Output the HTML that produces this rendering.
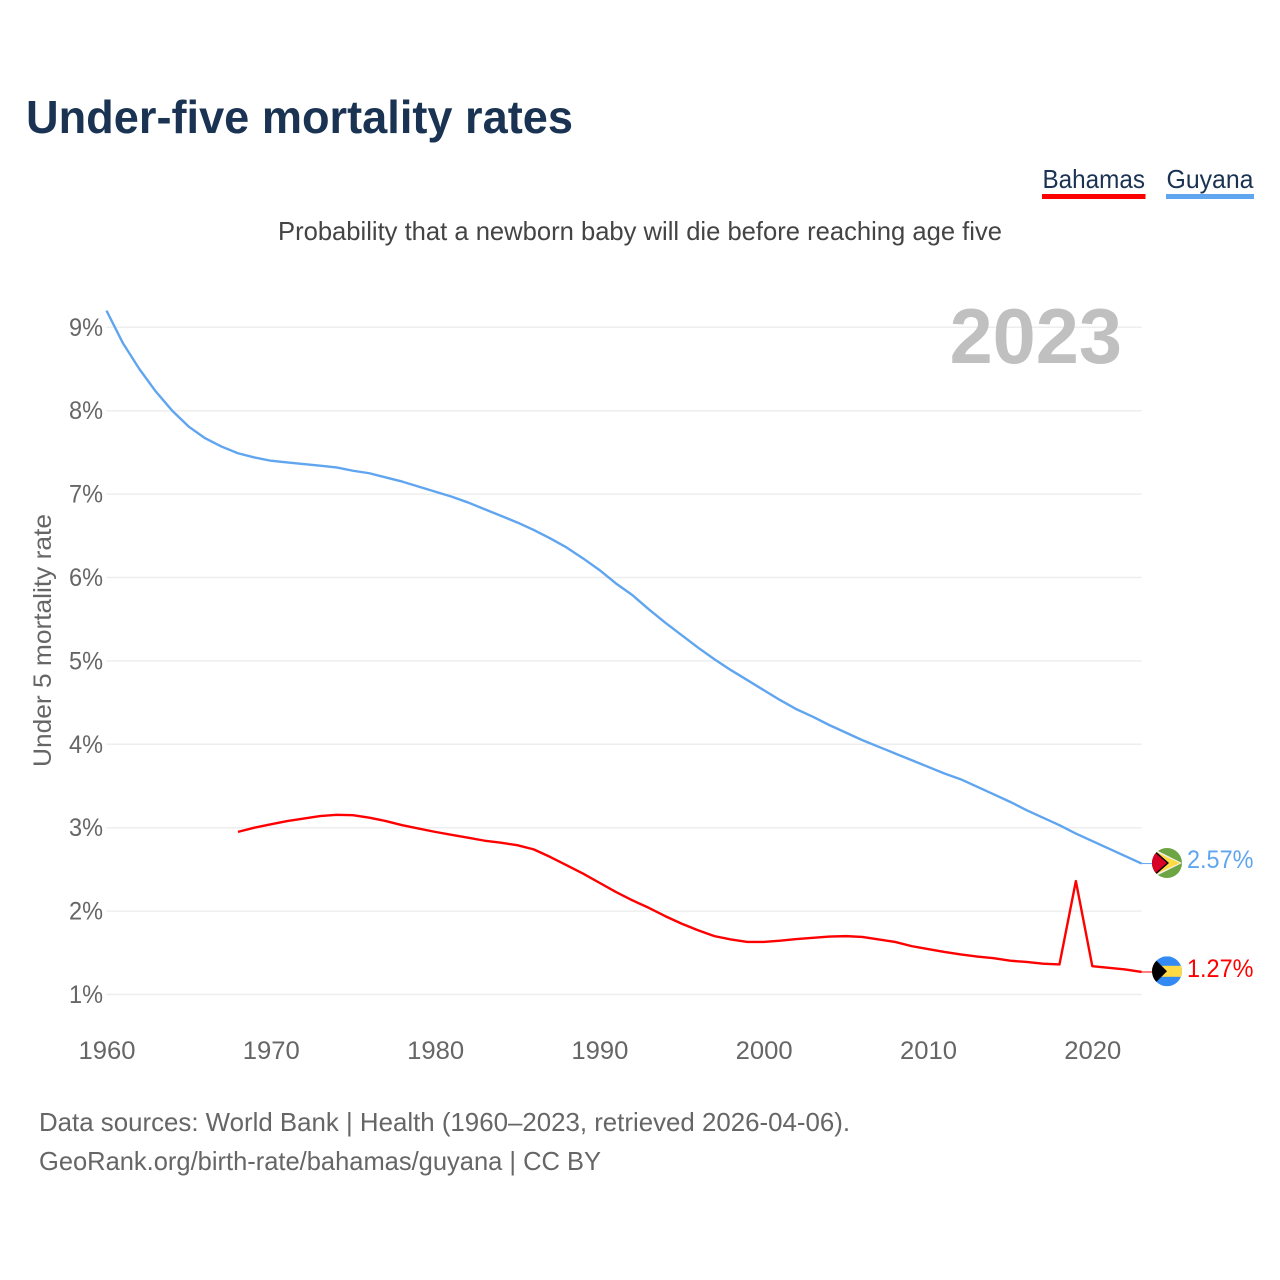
<!DOCTYPE html>
<html lang="en">
<head>
<meta charset="utf-8">
<title>Under-five mortality rates</title>
<style>
html,body{margin:0;padding:0;background:#fff;width:1280px;height:1280px;overflow:hidden}
svg{display:block}
text{font-family:"Liberation Sans",sans-serif}
</style>
</head>
<body>
<svg id="chart" width="1280" height="1280" viewBox="0 0 1280 1280" xmlns="http://www.w3.org/2000/svg">
  <defs>
    <clipPath id="flag-clip"><circle cx="0" cy="0" r="15"></circle></clipPath>
  </defs>
  <text x="26" y="133" font-size="46" font-weight="700" fill="#1a3353" textLength="547" lengthAdjust="spacingAndGlyphs">Under-five mortality rates</text>
  <text x="1042.500" y="188" font-size="26" fill="#1a3353" textLength="102.500" lengthAdjust="spacingAndGlyphs">Bahamas</text>
  <rect x="1042" y="194" width="103.500" height="5" fill="#ff0000"></rect>
  <text x="1166.500" y="188" font-size="26" fill="#1a3353" textLength="87" lengthAdjust="spacingAndGlyphs">Guyana</text>
  <rect x="1166" y="194" width="88" height="5" fill="#60a5ef"></rect>
  <text x="278" y="240" font-size="26" fill="#444444" textLength="724" lengthAdjust="spacingAndGlyphs">Probability that a newborn baby will die before reaching age five</text>
  <text transform="translate(51,767) rotate(-90)" font-size="25" fill="#666666" textLength="253" lengthAdjust="spacingAndGlyphs">Under 5 mortality rate</text>
  <g id="grid"></g>
  <g id="y-ticks"></g>
  <g id="x-ticks"></g>
  <text x="1122" y="363" font-size="77.500" font-weight="700" fill="#c0c0c0" text-anchor="end">2023</text>
  <g id="series"></g>
  <g transform="translate(1167,863)">
    <g clip-path="url(#flag-clip)">
      <rect x="-15" y="-15" width="30" height="30" fill="#6da544"></rect>
      <polygon points="-15,-15 15,0 -15,15" fill="#f0f0f0"></polygon>
      <polygon points="-15,-13 13,0 -15,13" fill="#ffda44"></polygon>
      <polygon points="-15,-15 2,0 -15,15" fill="#000000"></polygon>
      <polygon points="-15,-13 0,0 -15,13" fill="#d80027"></polygon>
    </g>
  </g>
  <g transform="translate(1167,971.300)">
    <g clip-path="url(#flag-clip)">
      <rect x="-15" y="-15" width="30" height="30" fill="#338af3"></rect>
      <rect x="-15" y="-5.500" width="30" height="11" fill="#ffda44"></rect>
      <polygon points="-15,-15 0,0 -15,15" fill="#000000"></polygon>
    </g>
  </g>
  <text x="1187" y="868" font-size="25" fill="#60a5ef" textLength="66.500" lengthAdjust="spacingAndGlyphs">2.57%</text>
  <text x="1187" y="977" font-size="25" fill="#ff0000" textLength="66.500" lengthAdjust="spacingAndGlyphs">1.27%</text>
  <text x="39" y="1131" font-size="26" fill="#666666" textLength="811" lengthAdjust="spacingAndGlyphs">Data sources: World Bank | Health (1960–2023, retrieved 2026-04-06).</text>
  <text x="39" y="1170" font-size="26" fill="#666666" textLength="562" lengthAdjust="spacingAndGlyphs">GeoRank.org/birth-rate/bahamas/guyana | CC BY</text>
</svg>
<script>
const guyanaStartYear = 1960;
const guyanaValues = [
  9.20,8.81,8.50,8.23,8.00,7.81,7.67,7.57,7.49,7.44,
  7.40,7.38,7.36,7.34,7.32,7.28,7.25,7.20,7.15,7.09,
  7.03,6.97,6.90,6.82,6.74,6.66,6.57,6.47,6.36,6.23,
  6.09,5.93,5.79,5.62,5.46,5.31,5.16,5.02,4.89,4.77,
  4.65,4.53,4.42,4.33,4.23,4.14,4.05,3.97,3.89,3.81,
  3.73,3.65,3.58,3.49,3.40,3.31,3.21,3.12,3.03,2.93,
  2.84,2.75,2.66,2.57
];
const bahamasStartYear = 1968;
const bahamasValues = [
  2.95,3.00,3.04,3.08,3.11,3.14,3.155,3.15,3.12,3.08,
  3.03,2.99,2.95,2.915,2.88,2.845,2.82,2.79,2.74,2.65,
  2.55,2.45,2.34,2.23,2.13,2.04,1.94,1.85,1.77,1.70,
  1.66,1.63,1.63,1.645,1.665,1.68,1.695,1.70,1.69,1.66,
  1.63,1.58,1.545,1.51,1.48,1.455,1.435,1.405,1.39,1.37,
  1.36,2.36,1.34,1.32,1.30,1.27
];
const yTickValues = [1,2,3,4,5,6,7,8,9];
const xTickValues = [1960,1970,1980,1990,2000,2010,2020];

const NS = 'http://www.w3.org/2000/svg';
const xScale = year => 106.5 + (year - 1960) * 16.43;
const yScale = value => 994.5 - (value - 1) * 83.4;
const gridLayer = document.getElementById('grid');
const yLayer = document.getElementById('y-ticks');
const xLayer = document.getElementById('x-ticks');
const seriesLayer = document.getElementById('series');

yTickValues.forEach(v => {
  const line = document.createElementNS(NS, 'line');
  
  
  line.setAttribute('x1', xScale(1960));
  line.setAttribute('x2', xScale(2023));
  line.setAttribute('y1', yScale(v));
  line.setAttribute('y2', yScale(v));
  line.setAttribute('stroke', '#eeeeee');
  line.setAttribute('stroke-width', '1.5');
  gridLayer.appendChild(line);

  const label = document.createElementNS(NS, 'text');
  
  
  label.setAttribute('x', 69);
  label.setAttribute('y', yScale(v) + 8.5);
  label.setAttribute('font-size', '25');
  label.setAttribute('fill', '#666666');
  label.setAttribute('textLength', '34');
  label.setAttribute('lengthAdjust', 'spacingAndGlyphs');
  label.textContent = v + '%';
  yLayer.appendChild(label);
});

xTickValues.forEach(year => {
  const label = document.createElementNS(NS, 'text');
  
  
  label.setAttribute('x', xScale(year) - 28);
  label.setAttribute('y', 1059);
  label.setAttribute('font-size', '25');
  label.setAttribute('fill', '#666666');
  label.setAttribute('textLength', '57');
  label.setAttribute('lengthAdjust', 'spacingAndGlyphs');
  label.textContent = year;
  xLayer.appendChild(label);
});

function pathFor(startYear, values) {
  return values.map((v, i) => (i ? 'L' : 'M') + xScale(startYear + i).toFixed(2) + ' ' + yScale(v).toFixed(2)).join(' ');
}

const guyanaPath = document.createElementNS(NS, 'path');


guyanaPath.setAttribute('d', pathFor(guyanaStartYear, guyanaValues));
guyanaPath.setAttribute('fill', 'none');
guyanaPath.setAttribute('stroke', '#60a5ef');
guyanaPath.setAttribute('stroke-width', '2.4');
guyanaPath.setAttribute('stroke-linejoin', 'round');
seriesLayer.appendChild(guyanaPath);

const bahamasPath = document.createElementNS(NS, 'path');


bahamasPath.setAttribute('d', pathFor(bahamasStartYear, bahamasValues));
bahamasPath.setAttribute('fill', 'none');
bahamasPath.setAttribute('stroke', '#ff0000');
bahamasPath.setAttribute('stroke-width', '2.4');
bahamasPath.setAttribute('stroke-linejoin', 'round');
seriesLayer.appendChild(bahamasPath);

const guyanaLeader = document.createElementNS(NS, 'line');


guyanaLeader.setAttribute('x1', xScale(2023));
guyanaLeader.setAttribute('x2', 1152);
guyanaLeader.setAttribute('y1', yScale(guyanaValues[guyanaValues.length - 1]));
guyanaLeader.setAttribute('y2', yScale(guyanaValues[guyanaValues.length - 1]));
guyanaLeader.setAttribute('stroke', '#60a5ef');
guyanaLeader.setAttribute('stroke-width', '1');
seriesLayer.appendChild(guyanaLeader);

const bahamasLeader = document.createElementNS(NS, 'line');


bahamasLeader.setAttribute('x1', xScale(2023));
bahamasLeader.setAttribute('x2', 1152);
bahamasLeader.setAttribute('y1', yScale(bahamasValues[bahamasValues.length - 1]));
bahamasLeader.setAttribute('y2', yScale(bahamasValues[bahamasValues.length - 1]));
bahamasLeader.setAttribute('stroke', '#ff0000');
bahamasLeader.setAttribute('stroke-width', '1');
seriesLayer.appendChild(bahamasLeader);
</script>
</body>
</html>
